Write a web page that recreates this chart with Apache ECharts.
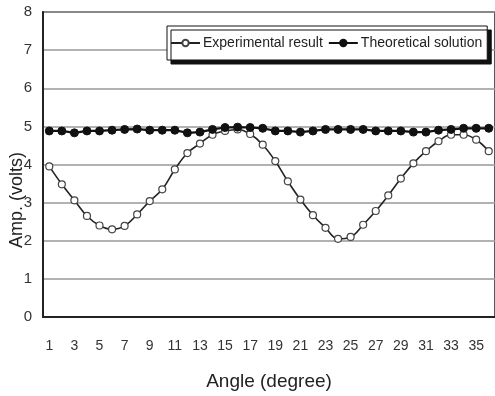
<!DOCTYPE html>
<html>
<head>
<meta charset="utf-8">
<script src="https://cdn.jsdelivr.net/npm/echarts@6/dist/echarts.min.js"></script>
<style>
html,body{margin:0;padding:0;background:#fff;}
#c{width:495px;height:396px;}
</style>
</head>
<body>
<div id="c"></div>
<script>
const categories = Array.from({length: 36}, (_, i) => String(i + 1));
const experimental = [3.95, 3.48, 3.06, 2.65, 2.40, 2.30, 2.39, 2.69, 3.04, 3.35, 3.87, 4.30,
                      4.55, 4.78, 4.88, 4.92, 4.80, 4.52, 4.09, 3.56, 3.08, 2.67, 2.34, 2.05,
                      2.10, 2.42, 2.78, 3.19, 3.63, 4.03, 4.35, 4.61, 4.78, 4.78, 4.65, 4.35];
const theoretical = [4.88, 4.88, 4.83, 4.88, 4.88, 4.90, 4.92, 4.93, 4.90, 4.90, 4.90, 4.83,
                     4.85, 4.92, 4.97, 4.98, 4.97, 4.95, 4.88, 4.88, 4.85, 4.88, 4.92, 4.92,
                     4.92, 4.92, 4.88, 4.88, 4.88, 4.85, 4.85, 4.90, 4.92, 4.95, 4.95, 4.95];
const yTicks = [0, 1, 2, 3, 4, 5, 6, 7, 8];
const seriesNames = ['Experimental result', 'Theoretical solution'];
const xTitle = 'Angle (degree)';
const yTitle = 'Amp. (volts)';

const FONT = '"Liberation Sans Narrow", "Liberation Sans", Arial, sans-serif';
const chart = echarts.init(document.getElementById('c'), null, {renderer: 'canvas'});
chart.setOption({
  backgroundColor: '#fff',
  animation: false,
  grid: {left: 43, top: 12, width: 454, bottom: 78, show: true, borderColor: '#222', borderWidth: 1.5, backgroundColor: 'transparent'},
  legend: {
    orient: 'horizontal',
    left: 167, top: 26,
    padding: [10, 5, 10, 3],
    itemGap: 5,
    itemWidth: 29, itemHeight: 8,
    backgroundColor: '#fff',
    borderColor: '#111', borderWidth: 1,
    shadowColor: '#111', shadowBlur: 0, shadowOffsetX: 4, shadowOffsetY: 4,
    textStyle: {fontFamily: FONT, fontSize: 14, color: '#222', padding: [0, 0, 0, -2]},
    data: seriesNames
  },
  xAxis: {
    type: 'category',
    data: categories,
    boundaryGap: true,
    name: xTitle,
    nameLocation: 'middle',
    nameGap: 55,
    nameTextStyle: {fontFamily: FONT, fontSize: 19, color: '#222'},
    axisLine: {lineStyle: {color: '#222', width: 2}},
    axisTick: {show: false},
    axisLabel: {interval: 1, margin: 22, fontFamily: FONT, fontSize: 14, color: '#333'},
    splitLine: {show: false}
  },
  yAxis: {
    type: 'value',
    min: 0, max: 8, interval: 1,
    axisLine: {show: true, lineStyle: {color: '#222', width: 2}},
    axisTick: {show: false},
    axisLabel: {margin: 11, fontFamily: FONT, fontSize: 15, color: '#333',
      formatter: v => yTicks.includes(v) ? String(v) : ''},
    splitLine: {show: true, lineStyle: {color: '#999', width: 1.5}}
  },
  graphic: [{
    type: 'text',
    left: 8, top: 152,
    rotation: Math.PI / 2,
    style: {text: yTitle, font: '18px ' + FONT, fill: '#222'},
    z: 10
  }],
  series: [
    {
      name: seriesNames[0], type: 'line', data: experimental, smooth: 0.4,
      symbol: 'circle', symbolSize: 7, showSymbol: true,
      itemStyle: {color: '#fff', borderColor: '#444', borderWidth: 1.2},
      lineStyle: {color: '#222', width: 1.6},
      z: 3
    },
    {
      name: seriesNames[1], type: 'line', data: theoretical,
      symbol: 'circle', symbolSize: 8, showSymbol: true,
      itemStyle: {color: '#111', borderColor: '#111', borderWidth: 1},
      lineStyle: {color: '#111', width: 2.2},
      z: 4
    }
  ]
});
</script>
</body>
</html>
